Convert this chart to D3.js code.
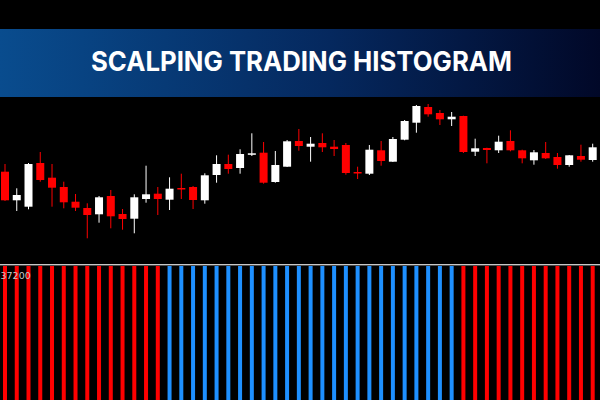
<!DOCTYPE html>
<html>
<head>
<meta charset="utf-8">
<script src="https://cdn.jsdelivr.net/npm/d3@7"></script>
<style>
  body { margin: 0; background: #000; }
  svg { display: block; }
</style>
</head>
<body>
<svg id="chart" width="600" height="400"></svg>
<script>
// candle data (open, high, low, close), one per bar
let opens  = [1.37283,1.36997,1.36933,1.3737,1.37223,1.3713,1.36983,1.3692,1.36857,1.3704,
              1.3686,1.36813,1.3701,1.37063,1.37003,1.3712,1.3713,1.36997,1.3725,1.3736,
              1.3732,1.37463,1.37473,1.3718,1.37333,1.3759,1.37533,1.3757,1.37533,1.3755,
              1.3728,1.37263,1.37497,1.37383,1.37603,1.37773,1.3793,1.3787,1.37807,1.3784,
              1.37483,1.3752,1.37497,1.3759,1.37497,1.37397,1.3747,1.3743,1.3735,1.3744,1.374]
let highs  = [1.3736,1.37117,1.3737,1.3748,1.3736,1.37183,1.3706,1.36967,1.3704,1.371,
              1.3691,1.37057,1.37343,1.3713,1.37227,1.37263,1.3714,1.37267,1.37447,1.37453,
              1.37507,1.37667,1.3758,1.3749,1.376,1.3771,1.3763,1.37667,1.376,1.3757,
              1.37333,1.3755,1.3759,1.3763,1.378,1.3795,1.3796,1.379,1.3788,1.37843,
              1.37613,1.37523,1.37643,1.37697,1.37503,1.375,1.3758,1.3747,1.3745,1.37553,1.37563]
let lows   = [1.3699,1.3689,1.36907,1.37183,1.36933,1.36917,1.3689,1.36617,1.36773,1.36717,
              1.36703,1.36667,1.36973,1.3685,1.369,1.3701,1.3691,1.36963,1.37173,1.37263,
              1.37263,1.3744,1.37163,1.37173,1.3733,1.37493,1.37383,1.3748,1.3744,1.37253,
              1.3721,1.3725,1.37343,1.3738,1.37597,1.37673,1.37833,1.3775,1.3774,1.3747,
              1.3744,1.37367,1.3747,1.37487,1.37367,1.37353,1.3741,1.37313,1.37333,1.37383,1.37383]
let closes = [1.36997,1.3705,1.3736,1.372,1.37123,1.36977,1.36923,1.3685,1.37027,1.36837,
              1.3681,1.37027,1.37057,1.3701,1.37113,1.37107,1.37,1.37247,1.3736,1.3731,
              1.3746,1.37467,1.37173,1.3735,1.37587,1.3754,1.37563,1.37527,1.3751,1.3727,
              1.37273,1.37503,1.3739,1.3761,1.3779,1.3794,1.37857,1.37807,1.37833,1.3748,
              1.37517,1.375,1.37583,1.37497,1.37417,1.37477,1.37417,1.3735,1.37447,1.37403,1.37527]

// histogram signal: 1 = bullish (blue), -1 = bearish (red)
let signal = [-1,-1,-1,-1,-1,-1,-1,-1,-1,-1,-1,-1,-1,-1,
              1,1,1,1,1,1,1,1,1,1,1,1,1,1,1,1,1,1,1,1,1,1,1,1,1,
              -1,-1,-1,-1,-1,-1,-1,-1,-1,-1,-1,-1]

let title = "SCALPING TRADING HISTOGRAM"
let histLabel = "37200"

let svg = d3.select("#chart")

let candles = opens.map((o, i) => ({ i: i, o: o, h: highs[i], l: lows[i], c: closes[i] }))

let x = d3.scaleLinear()
    .domain([0, candles.length - 1])
    .range([5, 592.7])

let y = d3.scaleLinear()
    .domain([1.366, 1.380])
    .range([240, 100])

let hy = d3.scaleLinear()
    .domain([0, 1])
    .range([400, 266])

svg.append("rect")
    .attr("width", 600)
    .attr("height", 400)
    .attr("fill", "#000")

// title banner
let grad = svg.append("defs").append("linearGradient")
    .attr("id", "bannerGrad")
    .attr("x1", "0%").attr("x2", "100%")
grad.append("stop").attr("offset", "0%").attr("stop-color", "#094c8e")
grad.append("stop").attr("offset", "55%").attr("stop-color", "#05285e")
grad.append("stop").attr("offset", "100%").attr("stop-color", "#010828")

svg.append("rect")
    .attr("x", 0)
    .attr("y", 29)
    .attr("width", 600)
    .attr("height", 68)
    .attr("fill", "url(#bannerGrad)")

svg.append("text")
    .attr("x", 301.5)
    .attr("y", 70.5)
    .attr("text-anchor", "middle")
    .attr("fill", "#fff")
    .attr("font-family", "Inter, 'Open Sans', sans-serif")
    .attr("font-weight", 700)
    .attr("font-size", 27)
    .attr("textLength", 421)
    .attr("lengthAdjust", "spacingAndGlyphs")
    .text(title)

// candles
let colorOf = d => d.c >= d.o ? "#ffffff" : "#ff0000"

let g = svg.append("g")

g.selectAll(".wick")
    .data(candles)
    .enter()
    .append("line")
    .classed("wick", true)
    .attr("x1", d => x(d.i))
    .attr("x2", d => x(d.i))
    .attr("y1", d => y(d.h))
    .attr("y2", d => y(d.l))
    .attr("stroke", colorOf)
    .attr("stroke-width", 1)

g.selectAll(".body")
    .data(candles)
    .enter()
    .append("rect")
    .classed("body", true)
    .attr("x", d => x(d.i) - 4)
    .attr("width", 8)
    .attr("y", d => y(Math.max(d.o, d.c)))
    .attr("height", d => Math.max(1.5, Math.abs(y(d.o) - y(d.c))))
    .attr("fill", colorOf)

// separator between panes
svg.append("line")
    .attr("x1", 0).attr("x2", 600)
    .attr("y1", 264.5).attr("y2", 264.5)
    .attr("stroke", "#c8c8c8")
svg.append("line")
    .attr("x1", 0).attr("x2", 600)
    .attr("y1", 265.5).attr("y2", 265.5)
    .attr("stroke", "#4a4a4a")

// histogram
svg.selectAll(".hbar")
    .data(signal)
    .enter()
    .append("rect")
    .classed("hbar", true)
    .attr("x", (d, i) => x(i) - 2)
    .attr("width", 4)
    .attr("y", hy(1))
    .attr("height", hy(0) - hy(1))
    .attr("fill", d => d > 0 ? "#1e90ff" : "#ff0000")

svg.append("text")
    .attr("x", 0.5)
    .attr("y", 279)
    .attr("fill", "#c8c8c8")
    .attr("font-family", "'DejaVu Sans', sans-serif")
    .attr("font-size", 9.5)
    .text(histLabel)
</script>
</body>
</html>
